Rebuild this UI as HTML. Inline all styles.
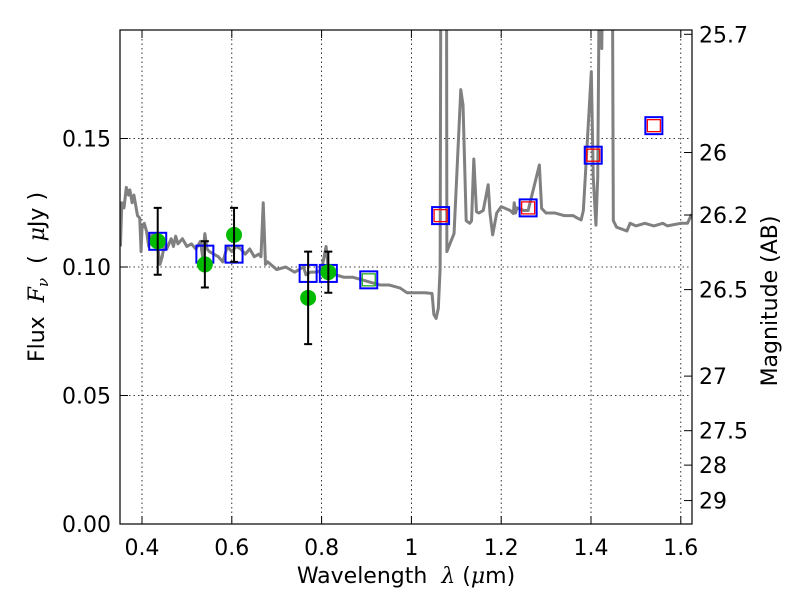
<!DOCTYPE html>
<html><head><meta charset="utf-8"><style>
body{margin:0;background:#fff}
svg{font-family:"DejaVu Sans","Liberation Sans",sans-serif}
</style></head><body>
<svg id="chart" width="800" height="600" viewBox="0 0 800 600">
<defs><clipPath id="clip"><rect x="120" y="30" width="572" height="494"/></clipPath></defs>
<rect x="0" y="0" width="800" height="600" fill="#fff"/>
<g id="grid"></g>
<g id="spec" clip-path="url(#clip)"></g>
<g id="marks" clip-path="url(#clip)"></g>
<rect x="120" y="30" width="572" height="494" fill="none" stroke="#000" stroke-width="1.2"/>
<g id="axes"></g>
<text x="406" y="583" font-size="22" text-anchor="middle" xml:space="preserve">Wavelength  <tspan font-family="DejaVu Serif" font-style="italic">λ</tspan> (<tspan font-family="DejaVu Serif" font-style="italic">μ</tspan>m)</text>
<text transform="translate(44,277) rotate(-90)" font-size="22" text-anchor="middle" xml:space="preserve">Flux  <tspan font-family="DejaVu Serif" font-style="italic">F<tspan font-size="15" dy="4">ν</tspan></tspan><tspan dy="-4">  (  </tspan><tspan font-family="DejaVu Serif" font-style="italic">μ</tspan>Jy )</text>
<text transform="translate(777,301) rotate(-90)" font-size="22" text-anchor="middle">Magnitude (AB)</text>
</svg>
<script>
const xTicks=[0.4,0.6,0.8,1,1.2,1.4,1.6];
const xTickLabels=["0.4","0.6","0.8","1","1.2","1.4","1.6"];
const yTicks=[0,0.05,0.1,0.15];
const yTickLabels=["0.00","0.05","0.10","0.15"];
const magTicks=[25.7,26,26.2,26.5,27,27.5,28,29];
const magTickLabels=["25.7","26","26.2","26.5","27","27.5","28","29"];
const specWave=[0.352,0.355,0.36,0.365,0.37,0.373,0.378,0.382,0.39,0.395,0.398,0.40,0.405,0.41,0.415,0.42,0.425,0.43,0.435,0.44,0.445,0.45,0.455,0.46,0.465,0.47,0.475,0.48,0.49,0.50,0.51,0.52,0.53,0.535,0.54,0.545,0.55,0.56,0.57,0.58,0.59,0.60,0.61,0.62,0.63,0.64,0.65,0.66,0.665,0.67,0.675,0.68,0.70,0.72,0.74,0.75,0.76,0.765,0.775,0.79,0.80,0.81,0.815,0.82,0.83,0.85,0.87,0.89,0.91,0.93,0.95,0.975,0.99,1.01,1.03,1.046,1.05,1.055,1.06,1.064,1.066,1.078,1.079,1.088,1.095,1.11,1.115,1.122,1.13,1.134,1.139,1.145,1.15,1.16,1.171,1.175,1.181,1.19,1.2,1.22,1.227,1.229,1.232,1.235,1.25,1.26,1.285,1.29,1.30,1.32,1.34,1.36,1.37,1.378,1.383,1.4007,1.405,1.411,1.415,1.42,1.424,1.428,1.447,1.4497,1.457,1.48,1.487,1.50,1.52,1.54,1.56,1.57,1.60,1.615,1.624];
const specFlux=[0.108,0.125,0.123,0.131,0.128,0.13,0.125,0.128,0.12,0.119,0.106,0.115,0.117,0.114,0.108,0.112,0.113,0.108,0.108,0.101,0.104,0.109,0.107,0.109,0.111,0.108,0.112,0.109,0.111,0.108,0.109,0.107,0.110,0.104,0.113,0.107,0.106,0.105,0.104,0.102,0.108,0.106,0.108,0.107,0.105,0.107,0.104,0.105,0.104,0.125,0.101,0.102,0.099,0.100,0.098,0.099,0.100,0.097,0.098,0.098,0.099,0.108,0.099,0.097,0.097,0.096,0.096,0.095,0.094,0.093,0.093,0.0918,0.090,0.090,0.090,0.0897,0.0815,0.080,0.084,0.0996,0.25,0.25,0.106,0.110,0.113,0.169,0.163,0.118,0.117,0.118,0.142,0.1215,0.121,0.122,0.132,0.121,0.1125,0.121,0.1235,0.122,0.1208,0.125,0.121,0.123,0.122,0.122,0.1397,0.1228,0.121,0.121,0.120,0.120,0.119,0.1183,0.122,0.176,0.135,0.1163,0.135,0.25,0.185,0.25,0.25,0.118,0.1155,0.114,0.117,0.116,0.117,0.116,0.117,0.116,0.117,0.117,0.1206];
const obsWave=[0.435,0.54,0.605,0.77,0.815];
const obsFlux=[0.110,0.101,0.1125,0.088,0.098];
const obsErr=[0.013,0.009,0.0105,0.018,0.008];
const modWave=[0.435,0.54,0.605,0.77,0.815,0.905,1.065,1.26,1.405,1.54];
const modFlux=[0.110,0.105,0.105,0.0975,0.0975,0.095,0.120,0.123,0.1435,0.155];
const innerColor=["none","none","none","none","none","#2a2","red","red","red","red"];

const X=v=>142+(v-0.4)*449;
const Y=v=>524-v*2570;
const magToFlux=m=>Math.pow(10,(23.9-m)/2.5);
const NS="http://www.w3.org/2000/svg";
function mk(tag,attrs,parent){const e=document.createElementNS(NS,tag);for(const k in attrs)e.setAttribute(k,attrs[k]);parent.appendChild(e);return e;}
const grid=document.getElementById('grid'),axes=document.getElementById('axes');
xTicks.forEach((t,i)=>{
 const x=X(t);
 const g=mk('line',{x1:x,x2:x,y1:30,y2:524,stroke:'#000','stroke-width':0.8,'stroke-dasharray':'1.5,3'},grid);
 
 
 mk('line',{x1:x,x2:x,y1:524,y2:516,stroke:'#000'},axes);
 mk('line',{x1:x,x2:x,y1:30,y2:38,stroke:'#000'},axes);
 const tx=mk('text',{x:x,y:555,'font-size':22,'text-anchor':'middle'},axes);
 tx.textContent=xTickLabels[i];
 
 
});
yTicks.forEach((t,i)=>{
 const y=Y(t);
 const g=mk('line',{x1:120,x2:692,y1:y,y2:y,stroke:'#000','stroke-width':0.8,'stroke-dasharray':'1.5,3'},grid);
 
 
 mk('line',{x1:120,x2:128,y1:y,y2:y,stroke:'#000'},axes);
 const tx=mk('text',{x:111,y:y+8,'font-size':22,'text-anchor':'end'},axes);
 tx.textContent=yTickLabels[i];
 
 
});
magTicks.forEach((m,i)=>{
 const y=Y(magToFlux(m));
 mk('line',{x1:684,x2:692,y1:y,y2:y,stroke:'#000'},axes);
 const tx=mk('text',{x:699,y:y+8,'font-size':22},axes);
 tx.textContent=magTickLabels[i];
 
 
});
const spec=document.getElementById('spec');
const pl=mk('polyline',{points:specWave.map((w,i)=>X(w)+','+Y(specFlux[i])).join(' '),fill:'none',stroke:'#808080','stroke-width':3,'stroke-linejoin':'round'},spec);


const marks=document.getElementById('marks');
modWave.forEach((w,i)=>{
 const x=X(w),y=Y(modFlux[i]);
 const r=mk('rect',{x:x-8.5,y:y-8.5,width:17,height:17,fill:'none',stroke:'#00f','stroke-width':2},marks);
 
 
 if(innerColor[i]!=='none'){
  const r2=mk('rect',{x:x-6.5,y:y-6,width:13,height:12,fill:'none',stroke:innerColor[i],'stroke-width':1.3},marks);
  
  
 }
});
obsWave.forEach((w,i)=>{
 const x=X(w),y=Y(obsFlux[i]),y1=Y(obsFlux[i]+obsErr[i]),y2=Y(obsFlux[i]-obsErr[i]);
 const c=mk('circle',{cx:x,cy:y,r:8,fill:'#00bb00'},marks);
 
 
 const eb=mk('path',{d:`M${x},${y1}V${y2}M${x-4},${y1}H${x+4}M${x-4},${y2}H${x+4}`,stroke:'#000','stroke-width':2,fill:'none'},marks);
 
 
});
</script>
</body></html>
